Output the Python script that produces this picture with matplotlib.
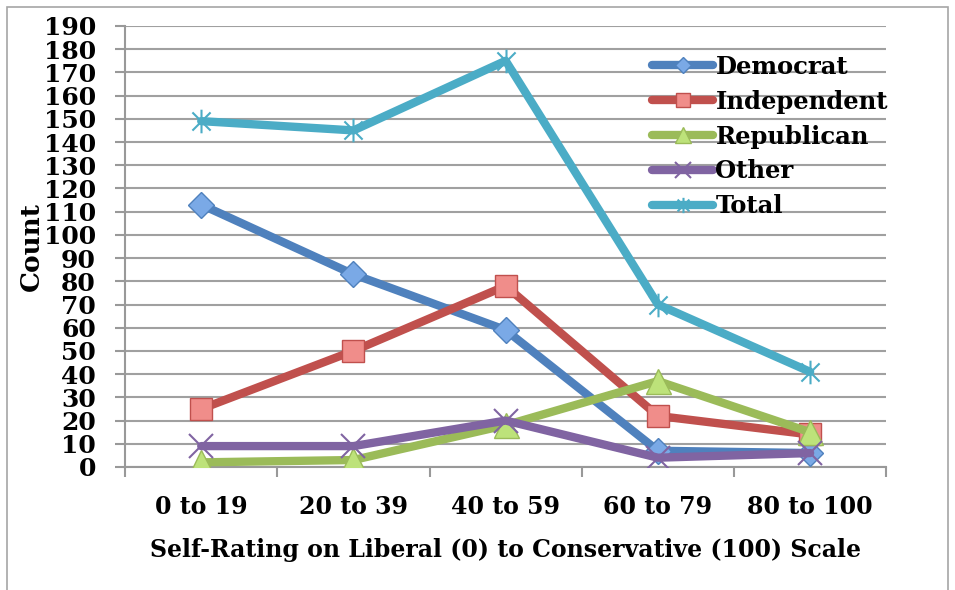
import numpy as np
import matplotlib.pyplot as plt
from matplotlib.path import Path
from matplotlib.patches import Rectangle

categories = ['0 to 19', '20 to 39', '40 to 59', '60 to 79', '80 to 100']
democrat = [113, 83, 59, 7, 6]
independent = [25, 50, 78, 22, 14]
republican = [2, 3, 18, 37, 15]
other = [9, 9, 20, 4, 6]
total = [149, 145, 175, 70, 41]

plt.rcParams['font.family'] = ['DejaVu Serif']
plt.rcParams['font.weight'] = 'bold'

# excel-style star: an x plus a vertical bar
star = Path([(-1, -1), (1, 1), (-1, 1), (1, -1), (0, -1.3), (0, 1.3)],
            [Path.MOVETO, Path.LINETO, Path.MOVETO, Path.LINETO, Path.MOVETO, Path.LINETO])

fig = plt.figure(figsize=(9.55, 5.9), dpi=100)
ax = fig.add_axes([0.131, 0.2085, 0.797, 0.7475])
fig.patches.append(Rectangle((0.007, -0.05), 0.986, 1.038, transform=fig.transFigure,
                             fill=False, ec='#a6a6a6', lw=1.2, zorder=0))

x = np.arange(len(categories))
lw = 6
kw = dict(lw=lw, zorder=3, solid_capstyle='round')
ax.plot(x, democrat, color='#4f81bd', marker='D', ms=13, mfc='#7aa9e6',
        mec='#4f81bd', mew=1, label='Democrat', **kw)
ax.plot(x, independent, color='#c0504d', marker='s', ms=16, mfc='#f08d8a',
        mec='#c0504d', mew=1, label='Independent', **kw)
ax.plot(x, republican, color='#9bbb59', marker='^', ms=18, mfc='#bde27a',
        mec='#9bbb59', mew=1, label='Republican', **kw)
ax.plot(x, other, color='#8064a2', marker='x', ms=17, mec='#8064a2',
        mew=1.5, label='Other', **kw)
ax.plot(x, total, color='#4bacc6', marker=star, ms=17, mec='#4bacc6',
        mew=1.5, label='Total', **kw)

ax.set_xlim(-0.5, 4.5)
ax.set_ylim(0, 190)
ax.set_yticks(np.arange(0, 191, 10))
ax.set_xticks(x)
ax.set_xticklabels(categories)
ax.set_xticks(np.arange(-0.5, 4.6, 1), minor=True)
ax.tick_params(axis='x', which='major', length=0, pad=20, labelsize=17)
ax.tick_params(axis='x', which='minor', length=7, width=1.5, color='#999999', direction='out')
ax.tick_params(axis='y', length=7, width=1.5, color='#999999', pad=14, labelsize=18)
for lab in ax.get_yticklabels() + ax.get_xticklabels():
    lab.set_fontweight('bold')

ax.grid(axis='y', color='#a0a0a0', lw=1.5)
ax.set_axisbelow(True)
for s in ['top', 'right']:
    ax.spines[s].set_visible(False)
for s in ['left', 'bottom']:
    ax.spines[s].set_color('#999999')
    ax.spines[s].set_linewidth(1.5)

ax.set_ylabel('Count', fontsize=19, fontweight='bold', labelpad=0)
ax.set_xlabel('Self-Rating on Liberal (0) to Conservative (100) Scale', fontsize=17,
              fontweight='bold', labelpad=14)

leg = ax.legend(loc='upper left', bbox_to_anchor=(0.6925, 0.935), frameon=False,
                prop={'size': 17.5, 'weight': 'bold'}, handlelength=2.5, markerscale=0.65,
                handletextpad=0.1, labelspacing=0.45, borderaxespad=0, borderpad=0)

fig.savefig('out.png', dpi=100)
